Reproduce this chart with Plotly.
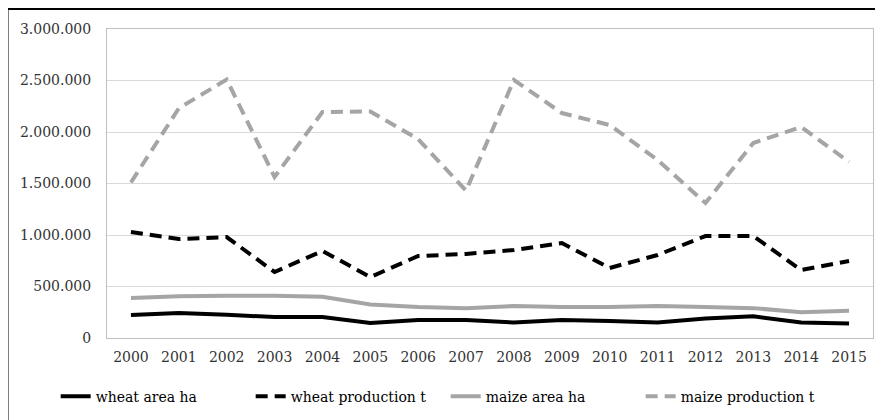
import plotly.graph_objects as go

years = [str(y) for y in range(2000, 2016)]
wheat_area_ha = [223000, 243000, 225000, 204000, 204000, 146000, 175000, 175000, 150000, 175000, 165000, 150000, 190000, 210000, 150000, 140000]
wheat_production_t = [1029000, 961000, 980000, 641000, 845000, 592000, 796000, 816000, 854000, 922000, 680000, 806000, 990000, 990000, 660000, 748000]
maize_area_ha = [388000, 405000, 410000, 410000, 400000, 325000, 300000, 290000, 310000, 300000, 300000, 310000, 300000, 290000, 250000, 265000]
maize_production_t = [1510000, 2230000, 2510000, 1563000, 2194000, 2200000, 1930000, 1430000, 2505000, 2184000, 2068000, 1728000, 1311000, 1893000, 2049000, 1709000]

y_ticks = [0, 500000, 1000000, 1500000, 2000000, 2500000, 3000000]

BLACK = "#000000"
GRAY = "#A5A5A5"
SERIF = "DejaVu Serif"

fig = go.Figure()
fig.add_trace(go.Scatter(x=years, y=wheat_area_ha, name="wheat area ha", mode="lines",
                         line=dict(color=BLACK, width=4)))
fig.add_trace(go.Scatter(x=years, y=wheat_production_t, name="wheat production t", mode="lines",
                         line=dict(color=BLACK, width=4, dash="12px,7px")))
fig.add_trace(go.Scatter(x=years, y=maize_area_ha, name="maize area ha", mode="lines",
                         line=dict(color=GRAY, width=4)))
fig.add_trace(go.Scatter(x=years, y=maize_production_t, name="maize production t", mode="lines",
                         line=dict(color=GRAY, width=4, dash="12px,7px")))

W, H = 875, 412
fig.update_layout(
    width=W, height=H,
    margin=dict(l=99, r=10, t=21, b=82, autoexpand=False),
    paper_bgcolor="white", plot_bgcolor="white",
    separators=",.",
    font=dict(family=SERIF, size=14, color="#333333"),
    showlegend=True,
    legend=dict(orientation="h", x=-0.067, xanchor="left", y=-0.19, yanchor="middle",
                font=dict(family=SERIF, size=14, color="#000000"),
                itemwidth=30, tracegroupgap=0, entrywidth=150),
    xaxis=dict(type="category", showgrid=False, showline=True, linecolor="#BFBFBF", linewidth=1,
               mirror=True, ticks="", ticklabelstandoff=6,
               tickfont=dict(family=SERIF, size=14, color="#333333"),
               range=[-0.5, 15.5]),
    yaxis=dict(range=[0, 3000000], tickvals=y_ticks, tickformat=",d", showgrid=True,
               gridcolor="#D9D9D9", gridwidth=1, showline=True, linecolor="#BFBFBF",
               linewidth=1, mirror=True, ticks="", zeroline=False, ticklabelstandoff=12,
               tickfont=dict(family=SERIF, size=14, color="#333333")),
)

# outer frame (top and left edges visible)
pw = W - 99 - 10
ph = H - 21 - 82
fy = (ph + 20) / ph
fx = -99.5 / pw
fig.add_shape(type="line", xref="paper", yref="paper", x0=fx, x1=1.05, y0=fy, y1=fy,
              line=dict(color="#000000", width=2))
fig.add_shape(type="line", xref="paper", yref="paper", x0=fx, x1=fx, y0=fy, y1=-0.5,
              line=dict(color="#000000", width=2))

fig.write_html("out.html")
